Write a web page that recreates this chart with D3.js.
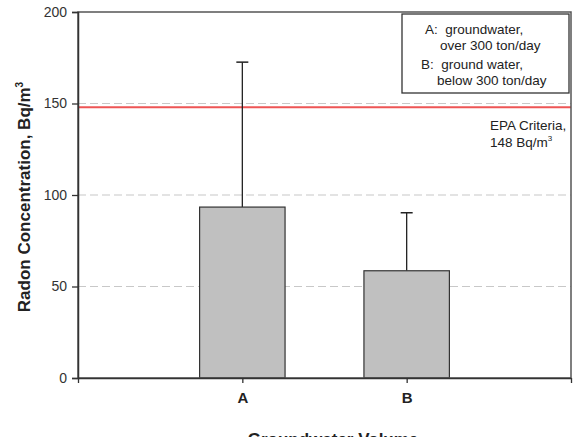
<!DOCTYPE html>
<html><head><meta charset="utf-8">
<script src="https://cdn.jsdelivr.net/npm/d3@7"></script>
<style>body{margin:0;background:#fff}svg{display:block;font-family:Arial,"Liberation Sans",sans-serif}text{white-space:pre}</style>
</head><body><svg id="c" width="577" height="437"></svg>
<script>
const categories = ["A", "B"];
const means = [93.4, 58.6];
const errorTops = [172.6, 90.3];
const yTicks = [0, 50, 100, 150, 200];
const gridValues = [50, 100, 150];
const epaValue = 148;
const legendLines = ["A:  groundwater,", "over 300 ton/day", "B:  ground water,", "below 300 ton/day"];

const svg = d3.select("#c");
const m = {l: 78, r: 571, t: 12, b: 378};
const y = d3.scaleLinear().domain([0, 200]).range([m.b, m.t]);
const x = d3.scaleLinear().domain([0, categories.length + 1]).range([m.l, m.r]);
const step = x(1) - x(0);
const barW = step * 0.52;
const xi = i => x(i + 1);

// grid
svg.selectAll(".grid").data(gridValues).enter().append("line")
  .attr("x1", m.l).attr("x2", m.r).attr("y1", d => y(d)).attr("y2", d => y(d))
  .attr("stroke", "#c8c8c8").attr("stroke-width", 1.2).attr("stroke-dasharray", "8,4");

// EPA line
svg.append("line").attr("x1", m.l).attr("x2", m.r).attr("y1", y(epaValue)).attr("y2", y(epaValue))
  .attr("stroke", "#ee5555").attr("stroke-width", 2);

// error bars
categories.forEach((c, i) => {
  const cx = xi(i);
  svg.append("line").attr("x1", cx).attr("x2", cx).attr("y1", y(means[i])).attr("y2", y(errorTops[i]))
    .attr("stroke", "#222").attr("stroke-width", 1.3);
  svg.append("line").attr("x1", cx - 6).attr("x2", cx + 6).attr("y1", y(errorTops[i])).attr("y2", y(errorTops[i]))
    .attr("stroke", "#222").attr("stroke-width", 1.5);
});

// bars
svg.selectAll(".bar").data(means).enter().append("rect")
  .attr("x", (d, i) => xi(i) - barW / 2).attr("width", barW)
  .attr("y", d => y(d)).attr("height", d => y(0) - y(d))
  .attr("fill", "#c0c0c0").attr("stroke", "#333").attr("stroke-width", 1.2);

// frame
svg.append("rect").attr("x", m.l).attr("y", m.t).attr("width", m.r - m.l).attr("height", m.b - m.t)
  .attr("fill", "none").attr("stroke", "#555").attr("stroke-width", 1.5);

// y axis
const yAxis = svg.append("g").attr("transform", `translate(${m.l},0)`)
  .call(d3.axisLeft(y).tickValues(yTicks).tickSize(6).tickPadding(5));
yAxis.select(".domain").attr("stroke", "#333").attr("stroke-width", 1.5);
yAxis.selectAll(".tick line").attr("stroke", "#333").attr("stroke-width", 1.3);
yAxis.selectAll("text").attr("font-size", 14).attr("fill", "#333").attr("font-family", "Arial, Liberation Sans, sans-serif");

// x axis
const xTickVals = d3.range(0, categories.length + 2);
const xAxis = svg.append("g").attr("transform", `translate(0,${m.b})`)
  .call(d3.axisBottom(x).tickValues(xTickVals).tickFormat(d => categories[d - 1] || "").tickSize(5).tickPadding(9).tickSizeOuter(0));
xAxis.select(".domain").attr("stroke", "#333").attr("stroke-width", 1.5);
xAxis.selectAll(".tick line").attr("stroke", "#333").attr("stroke-width", 1.3);
xAxis.selectAll("text").attr("font-size", 15).attr("font-weight", "bold").attr("fill", "#222").attr("font-family", "Arial, Liberation Sans, sans-serif");

// y title
const yt = svg.append("text").attr("transform", `translate(30,${(m.t + m.b) / 2 + 2}) rotate(-90)`)
  .attr("text-anchor", "middle").attr("font-size", 17).attr("font-weight", "bold").attr("fill", "#222");
yt.append("tspan").text("Radon Concentration, Bq/m");
yt.append("tspan").attr("font-size", 10).attr("dy", -7).text("3");

// x title
svg.append("text").attr("x", 333).attr("y", 445).attr("text-anchor", "middle")
  .attr("font-size", 17).attr("font-weight", "bold").attr("fill", "#222").text("Groundwater Volume");

// legend
svg.append("rect").attr("x", 402).attr("y", 14).attr("width", 167).attr("height", 79)
  .attr("fill", "#fff").attr("stroke", "#333").attr("stroke-width", 1.3);
const lx = [425, 440, 421, 437], ly = [34, 50, 69, 85];
legendLines.forEach((t, i) => {
  svg.append("text").attr("x", lx[i]).attr("y", ly[i]).attr("font-size", 13.5).attr("fill", "#222").text(t);
});

// EPA annotation
svg.append("text").attr("x", 490).attr("y", 130).attr("font-size", 13.5).attr("fill", "#222").text("EPA Criteria,");
const ep = svg.append("text").attr("x", 490).attr("y", 147).attr("font-size", 13.5).attr("fill", "#222");
ep.append("tspan").text(epaValue + " Bq/m");
ep.append("tspan").attr("font-size", 8).attr("dy", -6).text("3");
</script></body></html>
